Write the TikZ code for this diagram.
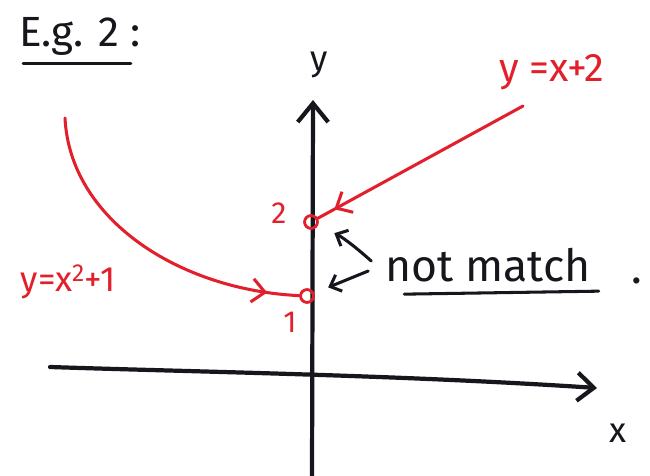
\documentclass[tikz,border=0pt]{standalone}
\usepackage{fontspec}
\setmainfont{Fira Sans}
\usepackage{tikz}
\usetikzlibrary{positioning,calc}
\usetikzlibrary{arrows.meta,decorations.markings}
\definecolor{PenRed}{RGB}{226,32,44}
\definecolor{PenBlack}{RGB}{22,22,28}
\tikzset{axis/.style={draw=PenBlack,line width=3.6pt,line cap=round}, redpen/.style={draw=PenRed,line width=2.6pt,line cap=round}, blackpen/.style={draw=PenBlack,line width=2.6pt,line cap=round}, hole/.style={circle,draw=PenRed,line width=2.4pt,inner sep=0pt,minimum size=11pt}, txt/.style={text=PenBlack,inner sep=0pt,font=\fontsize{#1}{#1}\selectfont}, redtxt/.style={text=PenRed,inner sep=0pt,font=\fontsize{#1}{#1}\selectfont}, barb/.style={postaction={decorate},decoration={markings,mark=at position #1 with {\arrow{Straight Barb[length=11pt,width=20pt,line width=2.6pt]}}}}}

\begin{document}
\begin{tikzpicture}[x=0.03cm,y=-0.03cm]
\useasboundingbox (0,0) rectangle (650,475);
\coordinate (xl) at (50,367);
\coordinate (xr) at (597,388);
\coordinate (yb) at (312,478);
\coordinate (yt) at (313,100);
\coordinate (ltop) at (523,106);
\coordinate (ctop) at (65,118);
\draw[axis,-{Straight Barb[length=16pt,width=26pt,line width=3.6pt]}] (yb) -- (yt);
\draw[axis,-{Straight Barb[length=14pt,width=24pt,line width=3.6pt]}] (xl) .. controls (200,372) and (400,375) .. (xr);
\node[hole] (h2) at (311,222) {};
\node[hole] (h1) at (307,296) {};
\draw[redpen,barb=0.92] (ltop) -- (h2);
\draw[redpen,barb=0.9] (ctop) .. controls (70,220) and (180,290) .. (h1);
\node[redtxt=26] (two) at (279,213) {2};
\node[redtxt=26] (one) at (290,322) {1};
\node[redtxt=34] (lin) at (552,72) {y =x+2};
\node[redtxt=30] (par) at (68,282) {y=x\textsuperscript{2}+1};
\node[txt=36] (eg) at (80,36) {E.g. 2 :};
\draw[blackpen] ($(eg.south west)+(4,8)$) -- ($(eg.south east)+(-10,8)$);
\node[txt=30] (ylab) at (319,65) {y};
\node[txt=30] (xlab) at (618,433) {x};
\node[txt=38] (nm) at (488,265) {not match};
\node[txt=38] (stop) at (637,281) {.};
\draw[blackpen] ($(nm.south west)+(19,12)$) -- ($(nm.south east)+(8,9)$);
\draw[blackpen,-{Straight Barb[length=8pt,width=15pt,line width=2.6pt]},shorten >=0.54cm] ($(nm.west)+(-14,-4)$) to[bend right=8] (h2);
\draw[blackpen,-{Straight Barb[length=8pt,width=15pt,line width=2.6pt]},shorten >=0.45cm] ($(nm.west)+(-17,6)$) -- (h1);
\end{tikzpicture}
\end{document}
